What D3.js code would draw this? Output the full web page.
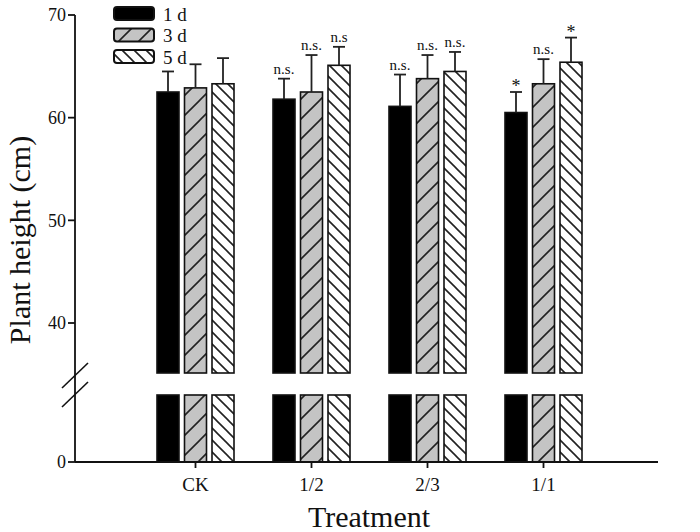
<!DOCTYPE html>
<html><head><meta charset="utf-8">
<script src="https://cdn.jsdelivr.net/npm/d3@7/dist/d3.min.js"></script>
<style>body{margin:0;background:#fff}svg{display:block}text{font-family:"Liberation Serif","Times New Roman",serif;fill:#111}</style>
</head><body><svg id="c" width="700" height="532"></svg>
<script>
const categories = ["CK", "1/2", "2/3", "1/1"];
const series = ["1 d", "3 d", "5 d"];
const means = [
  [62.5, 62.9, 63.3],
  [61.8, 62.5, 65.1],
  [61.1, 63.8, 64.5],
  [60.5, 63.3, 65.4]
];
const errTop = [
  [64.5, 65.2, 65.8],
  [63.8, 66.1, 66.9],
  [64.2, 66.1, 66.4],
  [62.5, 65.7, 67.8]
];
const labels = [
  ["", "", ""],
  ["n.s.", "n.s.", "n.s"],
  ["n.s.", "n.s.", "n.s."],
  ["*", "n.s.", "*"]
];
const yTicksUpper = [40, 50, 60, 70];
const yTicksLower = [0];

const svg = d3.select("#c");
const axisX0 = 75, baseY = 462, breakHi = 373, breakLo = 395;
const yTop = d3.scaleLinear().domain([40, 70]).range([323, 15]);
const yBot = d3.scaleLinear().domain([0, 10]).range([baseY, baseY - 102.7]);
const x = d3.scaleBand().domain(categories).range([137.5, 601.5]).padding(0);
const xs = d3.scaleBand().domain(series).range([-38.5, 38.5]).paddingInner(0.2).paddingOuter(0);

const defs = svg.append("defs");
const p3 = defs.append("pattern").attr("id", "p3").attr("patternUnits", "userSpaceOnUse").attr("width", 20).attr("height", 20);
p3.append("rect").attr("width", 20).attr("height", 20).attr("fill", "#c4c4c4");
p3.append("path").attr("d", "M-5,25L25,-5M-5,5L5,-5M15,25L25,15").attr("stroke", "#222").attr("stroke-width", 1.6);
const p5 = defs.append("pattern").attr("id", "p5").attr("patternUnits", "userSpaceOnUse").attr("width", 12).attr("height", 12);
p5.append("rect").attr("width", 12).attr("height", 12).attr("fill", "#fff");
p5.append("path").attr("d", "M-3,-3L15,15M-3,9L3,15M9,-3L15,3").attr("stroke", "#222").attr("stroke-width", 1.6);
const fills = ["#000", "url(#p3)", "url(#p5)"];

// bars
categories.forEach((c, i) => {
  series.forEach((s, j) => {
    const bx = x(c) + x.bandwidth() / 2 + xs(s);
    const bw = xs.bandwidth();
    const g = svg.append("g");
    g.append("rect").attr("x", bx).attr("y", yTop(means[i][j])).attr("width", bw)
      .attr("height", breakHi - yTop(means[i][j])).attr("fill", fills[j]).attr("stroke", "#111").attr("stroke-width", 1.6);
    g.append("rect").attr("x", bx).attr("y", breakLo).attr("width", bw)
      .attr("height", baseY - breakLo).attr("fill", fills[j]).attr("stroke", "#111").attr("stroke-width", 1.6);
    const cx = bx + bw / 2;
    g.append("line").attr("x1", cx).attr("x2", cx).attr("y1", yTop(means[i][j])).attr("y2", yTop(errTop[i][j]))
      .attr("stroke", "#222").attr("stroke-width", 1.8);
    g.append("line").attr("x1", cx - 6).attr("x2", cx + 6).attr("y1", yTop(errTop[i][j])).attr("y2", yTop(errTop[i][j]))
      .attr("stroke", "#222").attr("stroke-width", 1.8);
    if (labels[i][j]) {
      const isStar = labels[i][j] === "*";
      g.append("text").attr("x", cx).attr("y", yTop(errTop[i][j]) - (isStar ? 0 : 5))
        .attr("text-anchor", "middle").attr("font-size", isStar ? 18 : 15).text(labels[i][j]);
    }
  });
});

// y axis
svg.append("line").attr("x1", axisX0).attr("x2", axisX0).attr("y1", yTop(70)).attr("y2", baseY).attr("stroke", "#111").attr("stroke-width", 1.8);
const yTickData = yTicksUpper.map(v => ({v, y: yTop(v)})).concat(yTicksLower.map(v => ({v, y: yBot(v)})));
yTickData.forEach(d => {
  svg.append("line").attr("x1", axisX0 - 7).attr("x2", axisX0).attr("y1", d.y).attr("y2", d.y).attr("stroke", "#111").attr("stroke-width", 1.8);
  svg.append("text").attr("x", axisX0 - 9).attr("y", d.y).attr("dy", "0.35em").attr("text-anchor", "end").attr("font-size", 18).text(d.v);
});
[[388, 363], [407, 382]].forEach(([a, b]) => {
  svg.append("line").attr("x1", 62).attr("y1", a).attr("x2", 88).attr("y2", b).attr("stroke", "#111").attr("stroke-width", 1.6);
});

// x axis
svg.append("line").attr("x1", axisX0).attr("x2", 658).attr("y1", baseY).attr("y2", baseY).attr("stroke", "#111").attr("stroke-width", 1.8);
categories.forEach(c => {
  const cx = x(c) + x.bandwidth() / 2;
  svg.append("line").attr("x1", cx).attr("x2", cx).attr("y1", baseY).attr("y2", baseY + 6).attr("stroke", "#111").attr("stroke-width", 1.8);
  svg.append("text").attr("x", cx).attr("y", baseY + 29).attr("text-anchor", "middle").attr("font-size", 19).text(c);
});

// titles
svg.append("text").attr("x", 369).attr("y", 527).attr("text-anchor", "middle").attr("font-size", 30).text("Treatment");
svg.append("text").attr("transform", "translate(30,240) rotate(-90)").attr("text-anchor", "middle").attr("font-size", 30).text("Plant height (cm)");

// legend
series.forEach((s, j) => {
  const ly = 7 + j * 21.5;
  svg.append("rect").attr("x", 114).attr("y", ly).attr("width", 40).attr("height", 13).attr("rx", 3)
    .attr("fill", fills[j]).attr("stroke", "#111").attr("stroke-width", 2);
  svg.append("text").attr("x", 163).attr("y", ly + 7).attr("dy", "0.35em").attr("font-size", 19).text(s);
});
</script></body></html>
